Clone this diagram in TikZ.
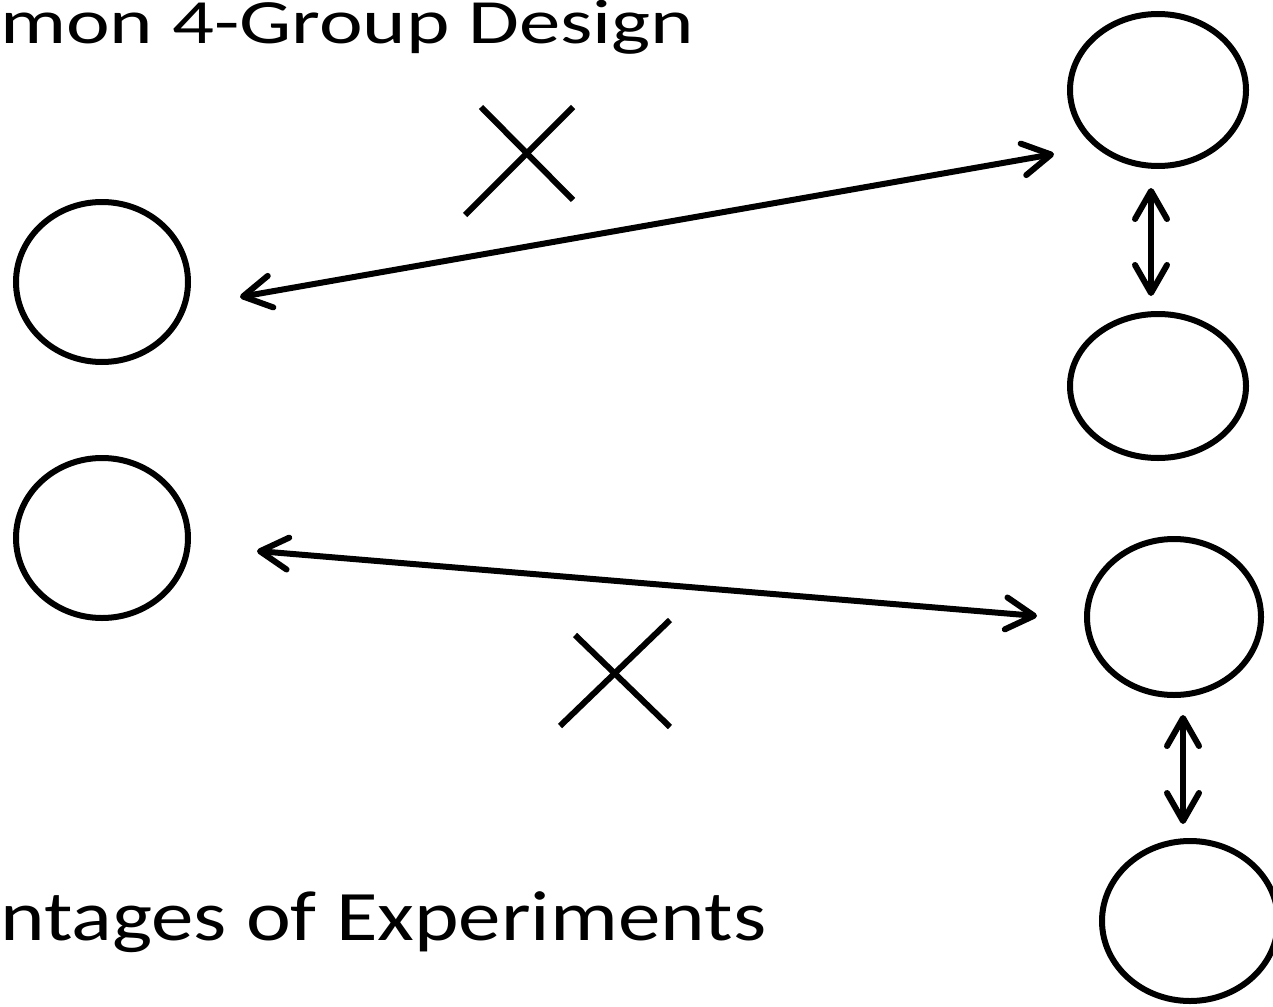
\documentclass[tikz,border=0pt]{standalone}
\usepackage{fontspec}
\setmainfont{Carlito}
\usetikzlibrary{arrows.meta,shapes.geometric}
% set a line of text to a given width while keeping its height
\newcommand{\fitwidth}[2]{\resizebox{#1}{\height}{#2}}
\begin{document}
\begin{tikzpicture}[x=1pt,y=-1pt,
  grp/.style={draw,ellipse,line width=6pt,inner sep=0pt},
  link/.style={line width=6pt,line cap=round,
    {Straight Barb[length=28pt,width=32pt,line cap=round,line join=round]}-{Straight Barb[length=28pt,width=32pt,line cap=round,line join=round]}},
  cross/.style={line width=6pt},
  heading/.style={anchor=base west,inner sep=0pt,font=\fontsize{63}{76}\selectfont},
  caption/.style={anchor=base west,inner sep=0pt,font=\fontsize{71}{86}\selectfont}]
\useasboundingbox (0,0) rectangle (1273,1006);
\clip (0,0) rectangle (1273,1006);

% headings
\node[heading] (title) at (0,44) {\fitwidth{694pt}{mon 4-Group Design}};
\node[caption] (bottom) at (0,940) {\fitwidth{766pt}{ntages of Experiments}};

% the six groups
\node[grp,minimum width=172pt,minimum height=160pt] (L1) at (102,282) {};
\node[grp,minimum width=172pt,minimum height=160pt] (L2) at (102,538) {};
\node[grp,minimum width=176pt,minimum height=152pt] (R1) at (1158,90) {};
\node[grp,minimum width=176pt,minimum height=144pt] (R2) at (1158,386) {};
\node[grp,minimum width=174pt,minimum height=156pt] (R3) at (1174,617) {};
\node[grp,minimum width=176pt,minimum height=160pt] (R4) at (1190,921) {};

% comparisons
\draw[link] ([shift={(138,15)}]L1.center) -- ([shift={(-104,64)}]R1.center);
\draw[link] ([shift={(-7,98)}]R1.center) -- ([shift={(-7,-90)}]R2.center);
\draw[link] ([shift={(155,13)}]L2.center) -- ([shift={(-137,-1)}]R3.center);
\draw[link] ([shift={(9,98)}]R3.center) -- ([shift={(-7,-97)}]R4.center);

% crossed-out comparisons
\draw[cross] (465,215) -- (573,107);
\draw[cross] (481,107) -- (573,200);
\draw[cross] (560,726) -- (670,620);
\draw[cross] (575,635) -- (670,727);
\end{tikzpicture}
\end{document}
